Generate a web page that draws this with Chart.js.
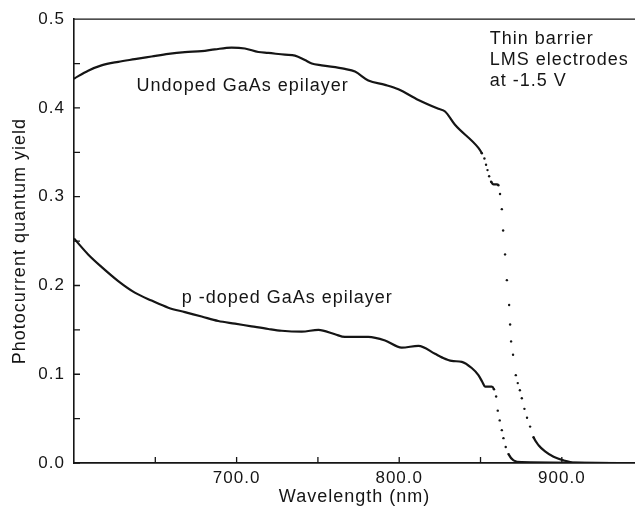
<!DOCTYPE html>
<html lang="en">
<head>
    <meta charset="UTF-8">
    <title>Photocurrent quantum yield</title>
    <script src="https://cdn.jsdelivr.net/npm/chart.js"></script>
    <style>
        html, body {
            margin: 0;
            padding: 0;
            background: #fff;
        }
        .chart-box {
            position: relative;
            width: 635px;
            height: 509px;
        }
    </style>
</head>
<body>
    <div class="chart-box">
        <canvas id="yieldChart"></canvas>
    </div>

    <script>
        // undoped GaAs epilayer: wavelength (nm) / quantum yield
        const undopedNm = [600, 608.7, 616.9, 627.2, 637.4, 647.7, 658, 668.2, 678.5, 686.6, 696.9, 705.1, 713.4, 719.5, 729.7, 735.9, 742, 746.2, 752.3, 766.6, 772.8, 781, 791.3, 799.5, 811.8, 824.1, 828.2, 834.3, 848.7, 850.8, 852.4, 853.4, 854.3, 855.3, 856.5, 858, 860, 861, 862, 863.1, 863.9, 865.1, 866.2, 867.6, 868.2, 868.8, 870, 871.7, 872.9, 874.2, 875.4, 877, 878.6, 880.5, 882.6, 885.7, 889.7, 894.9, 901, 908, 945];
        const undopedYield = [0.433, 0.442, 0.448, 0.452, 0.455, 0.458, 0.461, 0.463, 0.464, 0.466, 0.468, 0.467, 0.463, 0.462, 0.460, 0.459, 0.454, 0.450, 0.448, 0.444, 0.441, 0.431, 0.426, 0.421, 0.409, 0.399, 0.396, 0.381, 0.355, 0.349, 0.343, 0.336, 0.330, 0.323, 0.317, 0.314, 0.314, 0.313, 0.303, 0.286, 0.262, 0.235, 0.206, 0.178, 0.156, 0.137, 0.122, 0.099, 0.090, 0.082, 0.073, 0.061, 0.051, 0.041, 0.029, 0.020, 0.013, 0.007, 0.003, 0.0005, 0];

        // p-doped GaAs epilayer
        const pdopedNm = [600, 608.7, 616.9, 627.2, 637.4, 647.7, 658, 668.2, 678.5, 688.7, 699, 709.2, 719.5, 727.7, 740, 750.3, 760.5, 766.6, 781, 791.3, 801.5, 811.8, 822, 826.2, 832.3, 838.5, 844.6, 848.7, 851.2, 852.8, 856.9, 858.3, 859.6, 860.6, 861.8, 863.1, 864.1, 865.5, 867.2, 870.3, 875.4, 945];
        const pdopedYield = [0.253, 0.235, 0.221, 0.205, 0.192, 0.183, 0.175, 0.170, 0.165, 0.160, 0.157, 0.154, 0.151, 0.149, 0.148, 0.150, 0.145, 0.142, 0.142, 0.138, 0.130, 0.132, 0.123, 0.119, 0.115, 0.114, 0.107, 0.099, 0.091, 0.086, 0.086, 0.083, 0.075, 0.059, 0.048, 0.037, 0.028, 0.018, 0.010, 0.003, 0.001, 0];

        // axis ticks
        const xLabelTicks = [700, 800, 900];
        const xMinorTicks = [650, 750, 850];
        const yLabelTicks = [0.0, 0.1, 0.2, 0.3, 0.4, 0.5];
        const yMinorTicks = [0.05, 0.15, 0.25, 0.35, 0.45];

        const ink = '#151515';
        const fontFamily = "'Liberation Sans', Arial, Helvetica, sans-serif";

        // text written on the plot, anchored in data units
        const notes = [
            { lines: ['Undoped GaAs epilayer'], nm: 638.5, y: 0.419 },
            { lines: ['p -doped GaAs epilayer'], nm: 666.2, y: 0.1805 },
            { lines: ['Thin barrier', 'LMS electrodes', 'at -1.5 V'], nm: 855.7, y: 0.472 }
        ];

        // a segment is "steep" when it falls faster than 2px per px; those parts
        // of the scan show up as separate dots rather than a trace
        function isSteep(chart, xs, ys, i) {
            if (i < 0 || i >= xs.length - 1) return false;
            const sx = chart.scales.x, sy = chart.scales.y;
            const dx = Math.abs(sx.getPixelForValue(xs[i + 1]) - sx.getPixelForValue(xs[i]));
            const dy = Math.abs(sy.getPixelForValue(ys[i + 1]) - sy.getPixelForValue(ys[i]));
            return dy > 2 * dx;
        }

        function makeSeries(label, xs, ys) {
            return {
                label: label,
                data: xs.map((x, i) => ({ x: x, y: ys[i] })),
                borderColor: ink,
                borderWidth: 2.2,
                cubicInterpolationMode: 'monotone',
                pointBackgroundColor: ink,
                pointBorderWidth: 0,
                pointRadius: ctx => (isSteep(ctx.chart, xs, ys, ctx.dataIndex) || isSteep(ctx.chart, xs, ys, ctx.dataIndex - 1)) ? 1.2 : 0,
                pointHoverRadius: 0,
                segment: {
                    borderColor: ctx => isSteep(ctx.chart, xs, ys, ctx.p0DataIndex) ? 'rgba(0,0,0,0)' : ink
                }
            };
        }

        const frame = {
            id: 'frame',
            beforeDraw(chart) {
                chart.ctx.letterSpacing = '1px';
            },
            afterDraw(chart) {
                const { ctx, chartArea: area, scales } = chart;
                ctx.save();
                ctx.strokeStyle = ink;
                ctx.lineWidth = 1.3;
                ctx.beginPath();
                // top border
                ctx.moveTo(area.left, area.top);
                ctx.lineTo(area.right, area.top);
                // ticks point into the plot
                scales.x.ticks.forEach(t => {
                    const px = scales.x.getPixelForValue(t.value);
                    ctx.moveTo(px, area.bottom);
                    ctx.lineTo(px, area.bottom - 6);
                });
                scales.y.ticks.forEach(t => {
                    const py = scales.y.getPixelForValue(t.value);
                    ctx.moveTo(area.left, py);
                    ctx.lineTo(area.left + 6, py);
                });
                ctx.stroke();

                ctx.fillStyle = ink;
                ctx.font = '18px ' + fontFamily;
                ctx.letterSpacing = '1px';
                ctx.textAlign = 'left';
                ctx.textBaseline = 'alphabetic';
                notes.forEach(n => {
                    const px = scales.x.getPixelForValue(n.nm);
                    const py = scales.y.getPixelForValue(n.y);
                    n.lines.forEach((line, k) => ctx.fillText(line, px, py + k * 20.8));
                });
                ctx.restore();
            }
        };

        new Chart(document.getElementById('yieldChart'), {
            type: 'line',
            data: {
                datasets: [
                    makeSeries('Undoped GaAs epilayer', undopedNm, undopedYield),
                    makeSeries('p -doped GaAs epilayer', pdopedNm, pdopedYield)
                ]
            },
            options: {
                responsive: true,
                maintainAspectRatio: false,
                animation: false,
                layout: { padding: { top: 17, right: 0, bottom: 0, left: 0 } },
                plugins: {
                    legend: { display: false },
                    tooltip: { enabled: false }
                },
                scales: {
                    x: {
                        type: 'linear',
                        min: 600,
                        max: 945,
                        afterBuildTicks: scale => {
                            scale.ticks = xMinorTicks.concat(xLabelTicks).sort((a, b) => a - b).map(v => ({ value: v }));
                        },
                        afterFit: scale => { scale.height = 46; },
                        grid: { display: false, drawTicks: false },
                        border: { display: true, color: ink, width: 1.8 },
                        ticks: {
                            autoSkip: false,
                            maxRotation: 0,
                            padding: 5,
                            color: ink,
                            font: { family: fontFamily, size: 17 },
                            callback: v => xLabelTicks.includes(v) ? v.toFixed(1) : ''
                        },
                        title: {
                            display: true,
                            text: 'Wavelength (nm)',
                            color: ink,
                            font: { family: fontFamily, size: 18 },
                            padding: { top: 0, bottom: 1 }
                        }
                    },
                    y: {
                        min: 0,
                        max: 0.5,
                        afterBuildTicks: scale => {
                            scale.ticks = yLabelTicks.concat(yMinorTicks).sort((a, b) => a - b).map(v => ({ value: v }));
                        },
                        afterFit: scale => { scale.width = 74; },
                        grid: { display: false, drawTicks: false },
                        border: { display: true, color: ink, width: 1.6 },
                        ticks: {
                            autoSkip: false,
                            padding: 9,
                            color: ink,
                            font: { family: fontFamily, size: 17 },
                            callback: v => yLabelTicks.includes(v) ? v.toFixed(1) : ''
                        },
                        title: {
                            display: true,
                            text: 'Photocurrent quantum yield',
                            color: ink,
                            font: { family: fontFamily, size: 18 },
                            padding: { top: 9, bottom: 0 }
                        }
                    }
                }
            },
            plugins: [frame]
        });
    </script>
</body>
</html>
